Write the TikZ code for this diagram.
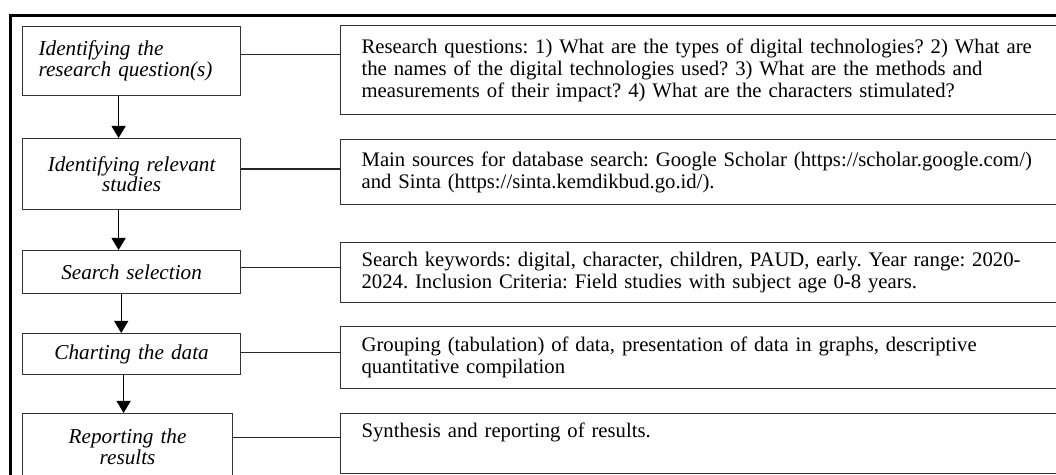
\documentclass[tikz,border=0pt]{standalone}
\usepackage{fontspec}
\setmainfont{Liberation Serif}
\usepackage{xcolor}
\usetikzlibrary{arrows.meta,positioning,calc}
\frenchspacing

\begin{document}
\begin{tikzpicture}[x = 0.5pt, y = -0.5pt,
    stage/.style = {draw = black!80, line width = 0.6pt, anchor = north west, inner sep = 0pt,
      minimum width = 109pt, text width = 93pt, align = center,
      font = \fontsize{10.6}{10.4}\selectfont\itshape},
    note/.style = {draw = black!80, line width = 0.6pt, anchor = north west, inner xsep = 10.5pt,
      inner ysep = 0pt, minimum width = 371pt, text width = 350pt, align = left,
      font = \fontsize{10.35}{11}\selectfont},
    link/.style = {draw = black!85, line width = 0.6pt},
    flow/.style = {line width = 0.6pt, -{Triangle[width = 7pt, length = 6pt]}}]
  \useasboundingbox (0,0) rectangle (1056,475);
  \clip (0,0) rectangle (1056,475);
  % outer frame
  \draw[line width = 1.25pt] (10.5,15.5) rectangle (1100,520);
  % Stages
  \node[stage, align = left, minimum height = 34.5pt] (s1) at (22,26) {Identifying the\\research question(s)};
  \node[stage, minimum height = 35.5pt] (s2) at (22,138) {Identifying relevant\\studies};
  \node[stage, minimum height = 21.5pt] (s3) at (22,250) {Search selection};
  \node[stage, minimum height = 20.5pt] (s4) at (22,333) {Charting the data};
  \node[stage, minimum width = 105pt, minimum height = 33pt] (s5) at (22,413) {Reporting the\\results};
  % Notes
  \node[note, minimum height = 44.5pt] (r1) at (340,25) {Research questions: 1) What are the types of digital technologies? 2) What are\\the names of the digital technologies used? 3) What are the methods and\\measurements of their impact? 4) What are the characters stimulated?};
  \node[note, minimum height = 32.5pt] (r2) at (340,139) {Main sources for database search: Google Scholar (https://scholar.google.com/)\\and Sinta (https://sinta.kemdikbud.go.id/).};
  \node[note, minimum height = 30pt] (r3) at (340,242) {Search keywords: digital, character, children, PAUD, early. Year range: 2020-\\2024. Inclusion Criteria: Field studies with subject age 0-8 years.};
  \node[note, minimum height = 31pt] (r4) at (340,326) {Grouping (tabulation) of data, presentation of data in graphs, descriptive\\quantitative compilation};
  \node[note, text height = 8pt, text depth = 14pt, inner ysep = 4pt] (r5) at (340,413) {Synthesis and reporting of results.};
  % Flow between stages
  \draw[flow] ([xshift = -6.5pt]s1.south) -- ([xshift = -6.5pt]s1.south |- s2.north);
  \draw[flow] ([xshift = -6.5pt]s2.south) -- ([xshift = -6.5pt]s2.south |- s3.north);
  \draw[flow] ([xshift = -5.2pt]s3.south) -- ([xshift = -5.2pt]s3.south |- s4.north);
  \draw[flow] ([xshift = -4pt]s4.south) -- ([xshift = -4pt]s4.south |- s5.north);
  % Links to the notes
  \draw[link] ([yshift = 3.25pt]s1.east) -- ([yshift = 3.25pt]s1.east -| r1.west);
  \draw[link] ([yshift = 2.5pt]s2.east) -- ([yshift = 2.5pt]s2.east -| r2.west);
  \draw[link] ([yshift = 2.25pt]s3.east) -- ([yshift = 2.25pt]s3.east -| r3.west);
  \draw[link] ([yshift = 0.75pt]s4.east) -- ([yshift = 0.75pt]s4.east -| r4.west);
  \draw[link] ([yshift = 4.5pt]s5.east) -- ([yshift = 4.5pt]s5.east -| r5.west);
\end{tikzpicture}
\end{document}
